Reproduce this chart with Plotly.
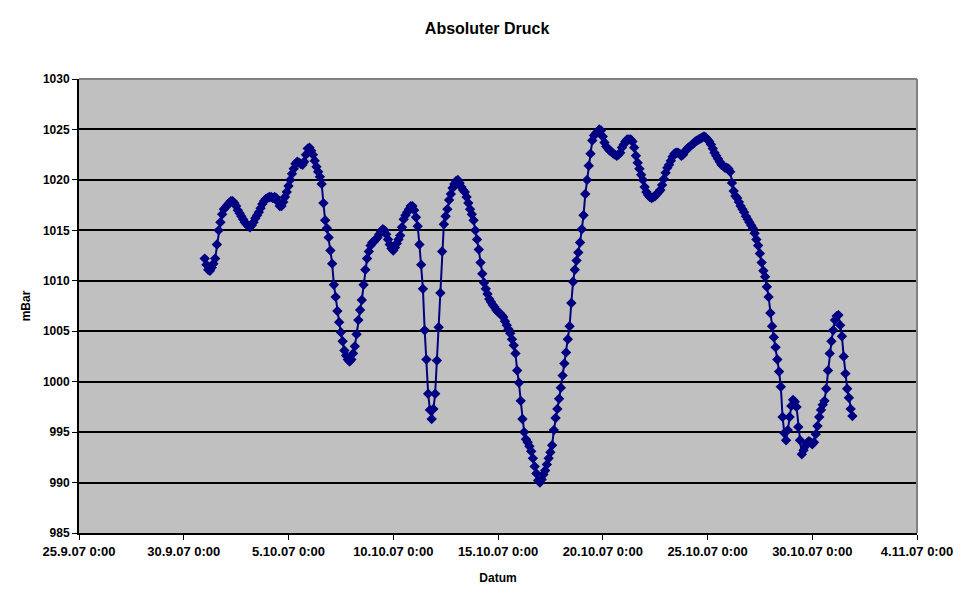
import pandas as pd
import plotly.graph_objects as go

# ---- data -------------------------------------------------------------
start_time = "2007-10-01 00:00"
step_hours = 2

pressure_mbar = [
    # 1.10
    1012.2, 1011.6, 1011.1, 1011.0, 1011.3, 1011.7, 1012.2, 1013.6, 1015.0, 1015.8, 1016.6, 1017.1,
    # 2.10
    1017.3, 1017.5, 1017.7, 1017.9, 1017.9, 1017.7, 1017.4, 1017.0, 1016.7, 1016.4, 1016.1, 1015.8,
    # 3.10
    1015.6, 1015.4, 1015.3, 1015.5, 1015.8, 1016.2, 1016.5, 1016.8, 1017.2, 1017.6, 1017.9, 1018.1,
    # 4.10
    1018.2, 1018.3, 1018.3, 1018.2, 1018.3, 1018.2, 1017.8, 1017.4, 1017.4, 1017.8, 1018.3, 1018.8,
    # 5.10
    1019.4, 1020.0, 1020.6, 1021.1, 1021.6, 1021.8, 1021.7, 1021.6, 1021.5, 1021.8, 1022.5, 1023.1,
    # 6.10
    1023.2, 1022.9, 1022.5, 1021.9, 1021.3, 1020.8, 1020.3, 1019.6, 1017.7, 1016.0, 1015.2, 1014.3,
    # 7.10
    1013.0, 1011.7, 1009.6, 1008.4, 1007.0, 1005.9, 1004.9, 1004.0, 1003.1, 1002.6, 1002.2, 1002.0,
    # 8.10
    1002.2, 1002.8, 1003.5, 1004.7, 1006.1, 1007.1, 1008.1, 1009.6, 1011.1, 1012.2, 1012.9, 1013.5,
    # 9.10
    1013.8, 1013.9, 1014.1, 1014.3, 1014.6, 1014.9, 1015.1, 1015.0, 1014.6, 1014.1, 1013.6, 1013.2,
    # 10.10
    1013.0, 1013.3, 1013.7, 1014.1, 1014.5, 1015.3, 1016.1, 1016.5, 1016.8, 1017.1, 1017.4, 1017.4,
    # 11.10
    1017.0, 1016.3, 1015.4, 1013.6, 1011.6, 1009.2, 1005.1, 1002.2, 998.8, 997.2, 996.3, 997.3,
    # 12.10
    998.8, 1002.1, 1005.4, 1008.8, 1012.9, 1015.6, 1016.4, 1017.1, 1018.0, 1018.6, 1019.2, 1019.6,
    # 13.10
    1019.9, 1020.0, 1019.7, 1019.3, 1019.0, 1018.8, 1018.3, 1017.7, 1017.1, 1016.6, 1016.0, 1015.0,
    # 14.10
    1014.1, 1013.1, 1011.8, 1010.7, 1009.8, 1009.2, 1008.7, 1008.2, 1007.9, 1007.6, 1007.4, 1007.1,
    # 15.10
    1006.9, 1006.8, 1006.6, 1006.4, 1006.0, 1005.6, 1005.2, 1004.8, 1004.2, 1003.6, 1002.8, 1001.1,
    # 16.10
    999.9, 998.1, 996.3, 995.0, 994.3, 994.0, 993.6, 993.1, 992.4, 991.6, 990.9, 990.2,
    # 17.10
    990.0, 990.3, 990.8, 991.2, 991.8, 992.4, 993.0, 993.7, 995.2, 996.4, 997.3, 998.3,
    # 18.10
    999.4, 1000.6, 1001.8, 1002.9, 1004.2, 1005.5, 1007.8, 1009.9, 1011.1, 1012.0, 1012.8, 1013.8,
    # 19.10
    1015.1, 1016.5, 1018.6, 1020.0, 1021.4, 1022.6, 1023.9, 1024.4, 1024.6, 1024.8, 1025.0, 1024.9,
    # 20.10
    1024.3, 1023.7, 1023.3, 1023.1, 1022.9, 1022.8, 1022.6, 1022.5, 1022.4, 1022.5, 1022.7, 1023.2,
    # 21.10
    1023.5, 1023.8, 1024.0, 1024.0, 1024.0, 1023.8, 1023.2, 1022.4, 1021.7, 1021.1, 1020.5, 1020.0,
    # 22.10
    1019.3, 1018.8, 1018.5, 1018.3, 1018.2, 1018.3, 1018.4, 1018.6, 1018.8, 1019.0, 1019.5, 1020.1,
    # 23.10
    1020.7, 1021.2, 1021.5, 1021.9, 1022.3, 1022.6, 1022.7, 1022.7, 1022.6, 1022.4, 1022.5, 1022.8,
    # 24.10
    1023.0, 1023.2, 1023.3, 1023.5, 1023.6, 1023.8, 1023.9, 1024.0, 1024.1, 1024.2, 1024.3, 1024.2,
    # 25.10
    1024.0, 1023.8, 1023.5, 1023.1, 1022.7, 1022.4, 1022.1, 1021.8, 1021.5, 1021.4, 1021.2, 1021.2,
    # 26.10
    1021.1, 1020.8, 1019.7, 1018.9, 1018.4, 1018.2, 1017.8, 1017.4, 1017.1, 1016.8, 1016.4, 1016.1,
    # 27.10
    1015.8, 1015.5, 1015.2, 1014.7, 1014.1, 1013.5, 1012.7, 1011.8, 1011.0, 1010.4, 1009.4, 1008.4,
    # 28.10
    1006.8, 1005.5, 1004.4, 1003.4, 1002.2, 1001.0, 999.5, 996.5, 994.9, 994.2, 995.2, 996.5,
    # 29.10
    997.6, 998.2, 998.0, 997.5, 995.5, 994.2, 992.8, 993.2, 993.6, 993.9, 994.1, 994.0,
    # 30.10
    993.8, 994.0, 994.8, 995.6, 996.5, 997.2, 997.7, 998.1, 999.3, 1001.1, 1002.8, 1004.0,
    # 31.10
    1005.1, 1006.1, 1006.5, 1006.6, 1005.6, 1004.5, 1002.5, 1000.8, 999.3, 998.4, 997.3, 996.6,
]

x_tick_dates = ["2007-09-25", "2007-09-30", "2007-10-05", "2007-10-10", "2007-10-15",
                "2007-10-20", "2007-10-25", "2007-10-30", "2007-11-04"]
x_tick_labels = ["25.9.07 0:00", "30.9.07 0:00", "5.10.07 0:00", "10.10.07 0:00", "15.10.07 0:00",
                 "20.10.07 0:00", "25.10.07 0:00", "30.10.07 0:00", "4.11.07 0:00"]
y_tick_values = [985, 990, 995, 1000, 1005, 1010, 1015, 1020, 1025, 1030]

title_text = "Absoluter Druck"
x_title = "Datum"
y_title = "mBar"

# ---- figure -----------------------------------------------------------
times = pd.date_range(start=start_time, periods=len(pressure_mbar), freq=f"{step_hours}h")

FONT = "Liberation Sans, Arial, sans-serif"
NAVY = "#000080"

fig = go.Figure()
fig.add_trace(go.Scatter(
    x=times, y=pressure_mbar, mode="lines+markers",
    line=dict(color=NAVY, width=2),
    marker=dict(symbol="diamond", size=8, color=NAVY, line=dict(width=0)),
    showlegend=False, hoverinfo="x+y",
))

fig.update_layout(
    width=970, height=604,
    margin=dict(l=71, r=61, t=71, b=79),
    paper_bgcolor="white",
    plot_bgcolor="#C0C0C0",
    font=dict(family=FONT, size=12, color="black", weight="bold"),
    title=dict(text=title_text, x=0.487, xanchor="center", xref="paper",
               y=1 - 20 / 604, yanchor="middle", yref="container",
               font=dict(family=FONT, size=16, color="black", weight="bold")),
    xaxis=dict(
        type="date",
        range=[x_tick_dates[0], x_tick_dates[-1]],
        tickvals=x_tick_dates, ticktext=x_tick_labels,
        showgrid=False, zeroline=False,
        showline=True, linecolor="black", linewidth=2,
        ticks="outside", ticklen=5, tickwidth=1, tickcolor="black",
        tickfont=dict(family=FONT, size=13, color="black", weight="bold"),
        title=dict(text=x_title, standoff=16,
                   font=dict(family=FONT, size=12, color="black", weight="bold")),
    ),
    yaxis=dict(
        range=[985, 1030],
        tickvals=y_tick_values,
        showgrid=True, gridcolor="black", gridwidth=2,
        zeroline=False,
        showline=True, linecolor="black", linewidth=2,
        ticks="outside", ticklen=5, tickwidth=1, tickcolor="black",
        tickfont=dict(family=FONT, size=12, color="black", weight="bold"),
        title=dict(text=y_title, standoff=10,
                   font=dict(family=FONT, size=12, color="black", weight="bold")),
    ),
    shapes=[
        dict(type="line", xref="paper", yref="paper", x0=0, x1=1, y0=1, y1=1,
             line=dict(color="#808080", width=2), layer="above"),
        dict(type="line", xref="paper", yref="paper", x0=1, x1=1, y0=0, y1=1,
             line=dict(color="#808080", width=2), layer="above"),
    ],
)

fig.write_html("out.html")
